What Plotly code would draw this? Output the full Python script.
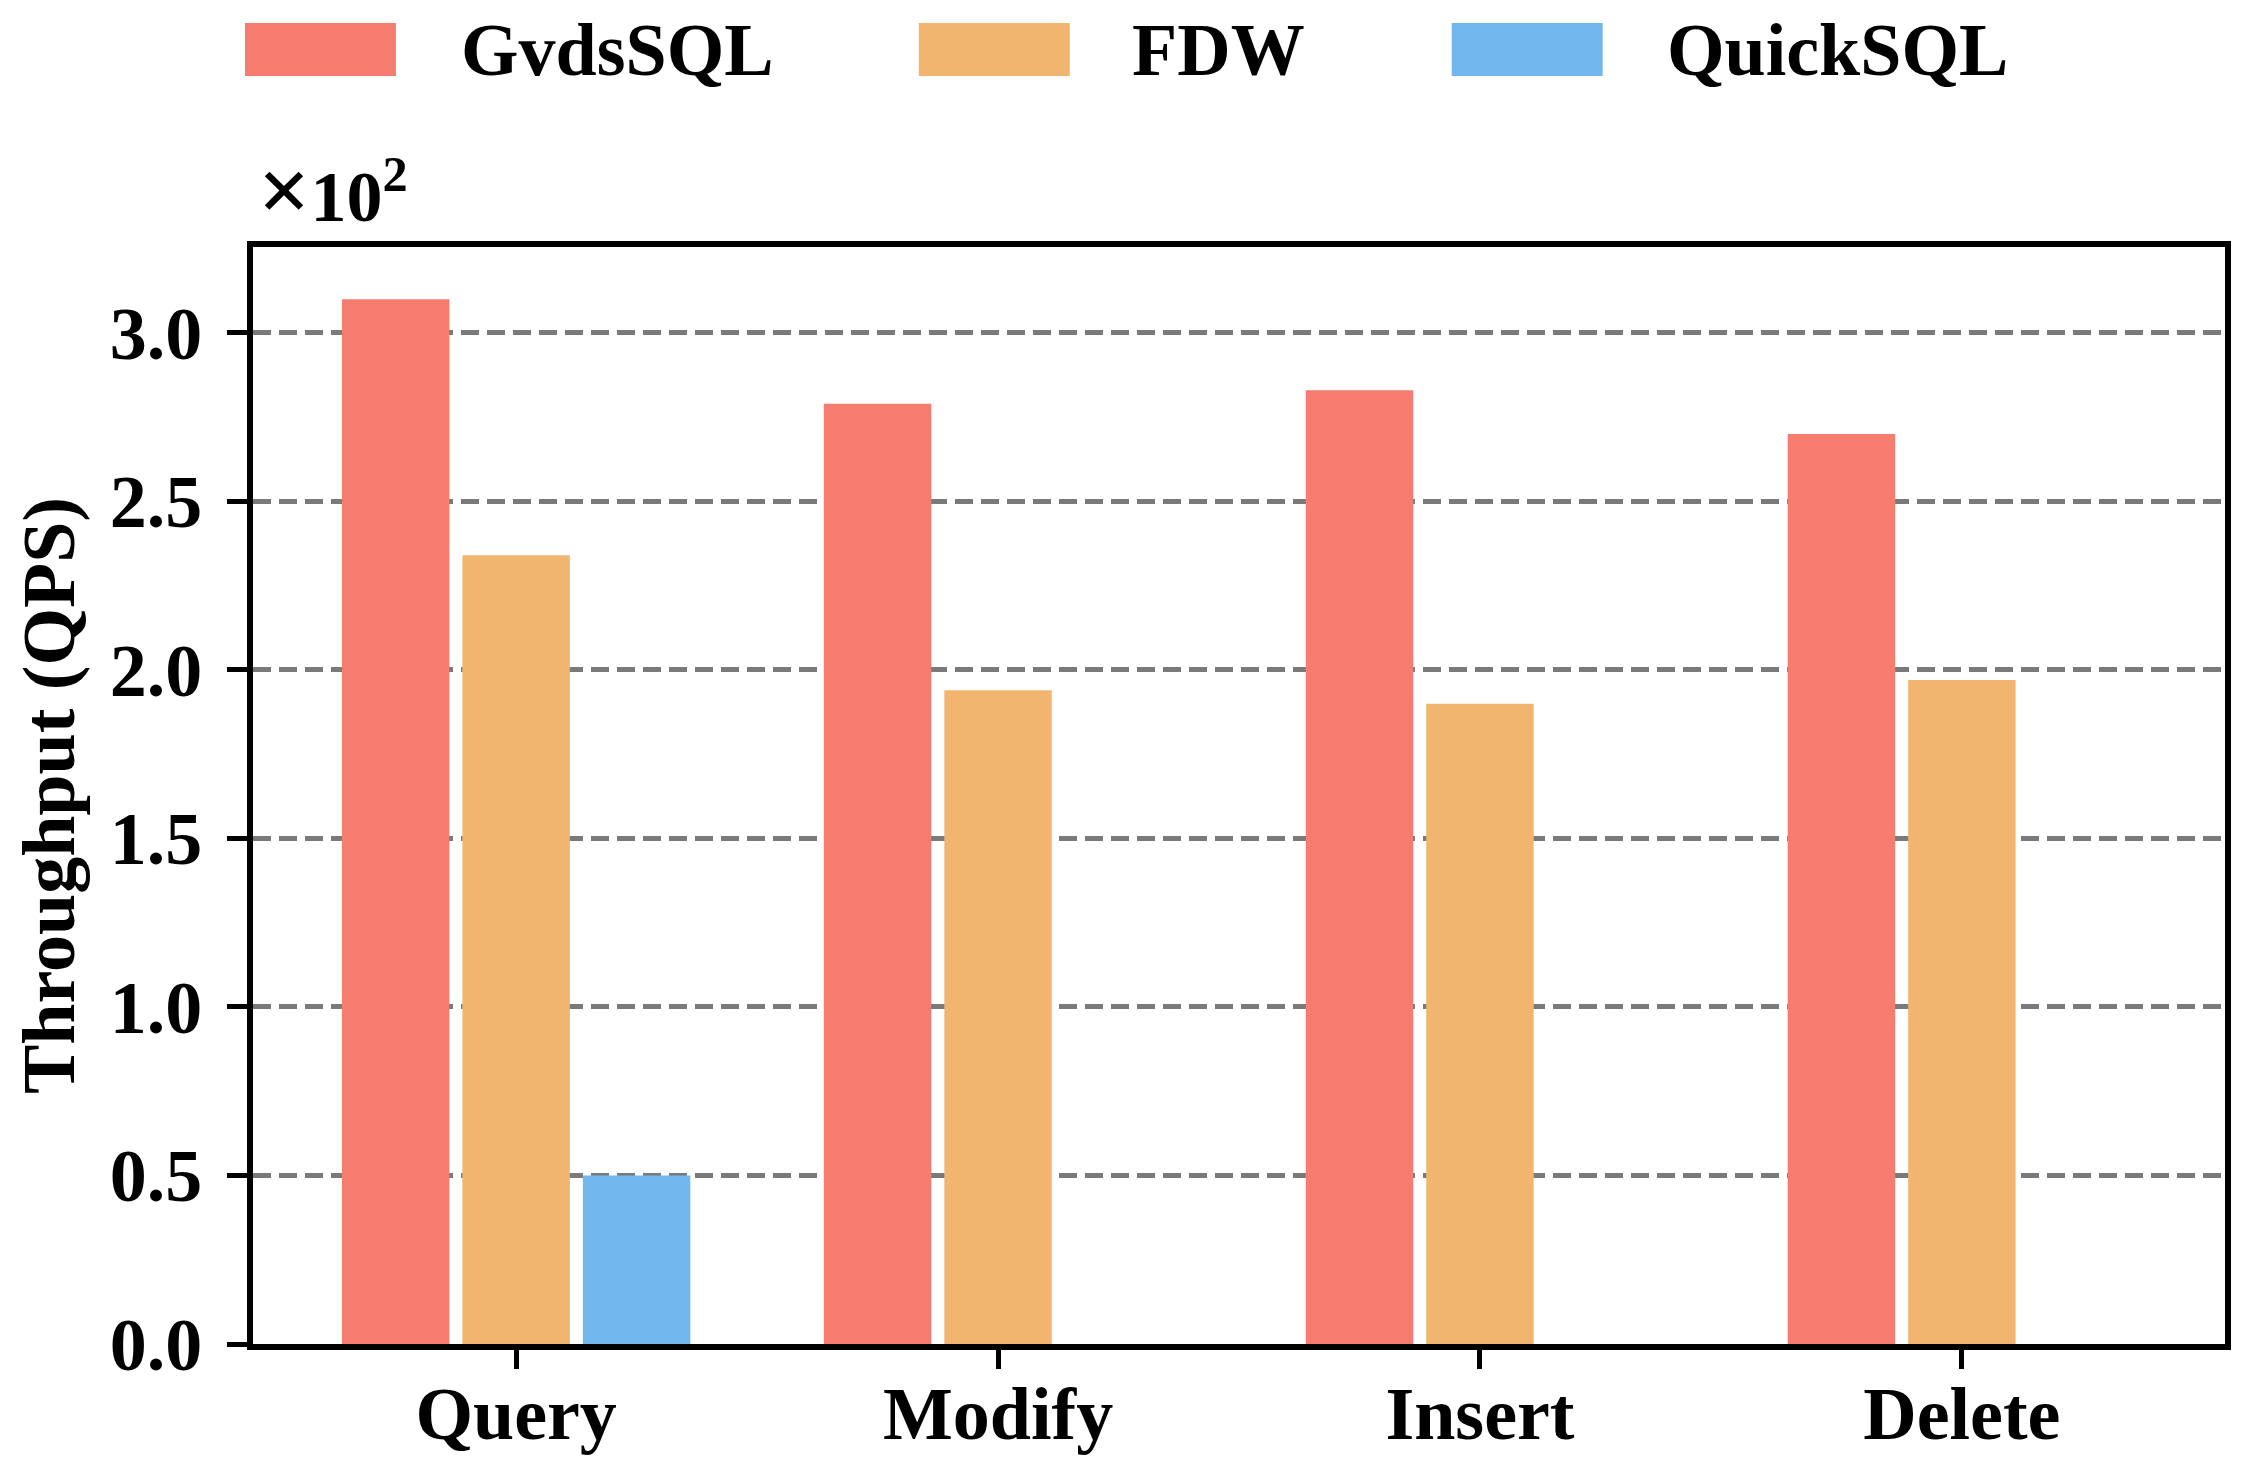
import plotly.graph_objects as go

# ---- data (values in units of 10^2 QPS) ----
categories = ["Query", "Modify", "Insert", "Delete"]
series_names = ["GvdsSQL", "FDW", "QuickSQL"]
gvdssql = [3.10, 2.79, 2.83, 2.70]
fdw = [2.34, 1.94, 1.90, 1.97]
quicksql = [0.50, None, None, None]
colors = ["#F57C6E", "#F2B56F", "#71B7ED"]
y_ticks = [0.0, 0.5, 1.0, 1.5, 2.0, 2.5, 3.0]

# The page body has an 8px default margin; work in figure coordinates offset by it.
OFF = 8
W, H = 2252 - 2 * OFF, 1470 - 2 * OFF
L, T = 253 - OFF, 247 - OFF
R = W - (2225.5 - OFF)
B = H - (1344.5 - OFF)
FONT = "Liberation Serif"
FS = 74

fig = go.Figure()
for name, vals, col in zip(series_names, [gvdssql, fdw, quicksql], colors):
    fig.add_trace(go.Bar(x=categories, y=vals, name=name,
                         marker=dict(color=col, line=dict(width=0)),
                         showlegend=False))

fig.update_layout(
    width=W, height=H,
    margin=dict(l=L, r=R, t=T, b=B, autoexpand=False),
    paper_bgcolor="white", plot_bgcolor="white",
    barmode="group", bargap=0.25, bargroupgap=0.108,
    font=dict(family=FONT, size=FS, color="black", weight="bold"),
)

fig.update_xaxes(
    range=[-0.546, 3.546],
    showline=True, linecolor="black", linewidth=6, mirror=True,
    ticks="outside", ticklen=19, tickwidth=5, tickcolor="black",
    ticklabelstandoff=-19,
    tickfont=dict(family=FONT, size=FS, color="black", weight="bold"),
    showgrid=False, zeroline=False,
)
fig.update_yaxes(
    range=[0, 3.255],
    tickvals=y_ticks, tickformat=".1f",
    showline=True, linecolor="black", linewidth=6, mirror=True,
    ticks="outside", ticklen=20, tickwidth=5, tickcolor="black",
    ticklabelstandoff=10,
    tickfont=dict(family=FONT, size=FS, color="black", weight="bold"),
    showgrid=True, gridcolor="#7a7a7a", gridwidth=5, griddash="18px,8px",
    zeroline=False,
    title=dict(text="Throughput (QPS)", standoff=22,
               font=dict(family=FONT, size=FS, color="black", weight="bold")),
)

# offset text ×10^2
fig.add_annotation(xref="paper", yref="paper", x=0, y=1, xanchor="left", yanchor="bottom",
                   xshift=3, yshift=4, showarrow=False,
                   text="<span style='font-size:92px'>×</span>10<sup>2</sup>",
                   font=dict(family=FONT, size=72, color="black", weight="bold"))

# custom legend (large patches like the reference), positions in page pixels
def px_x(p):
    return (p - OFF - L) / (W - L - R)

def px_y(p):
    return (H - B - (p - OFF)) / (H - T - B)

patch_left = [245, 919, 1452]
patch_w = 151
text_left = [459, 1130, 1665]
for name, col, pl, tl in zip(series_names, colors, patch_left, text_left):
    fig.add_shape(type="rect", xref="paper", yref="paper",
                  x0=px_x(pl), x1=px_x(pl + patch_w), y0=px_y(76), y1=px_y(23),
                  fillcolor=col, line=dict(width=0), layer="above")
    fig.add_annotation(xref="paper", yref="paper", x=px_x(tl), y=px_y(50),
                       xanchor="left", yanchor="middle", showarrow=False, text=name,
                       font=dict(family=FONT, size=FS, color="black", weight="bold"))

fig.write_html("out.html")
